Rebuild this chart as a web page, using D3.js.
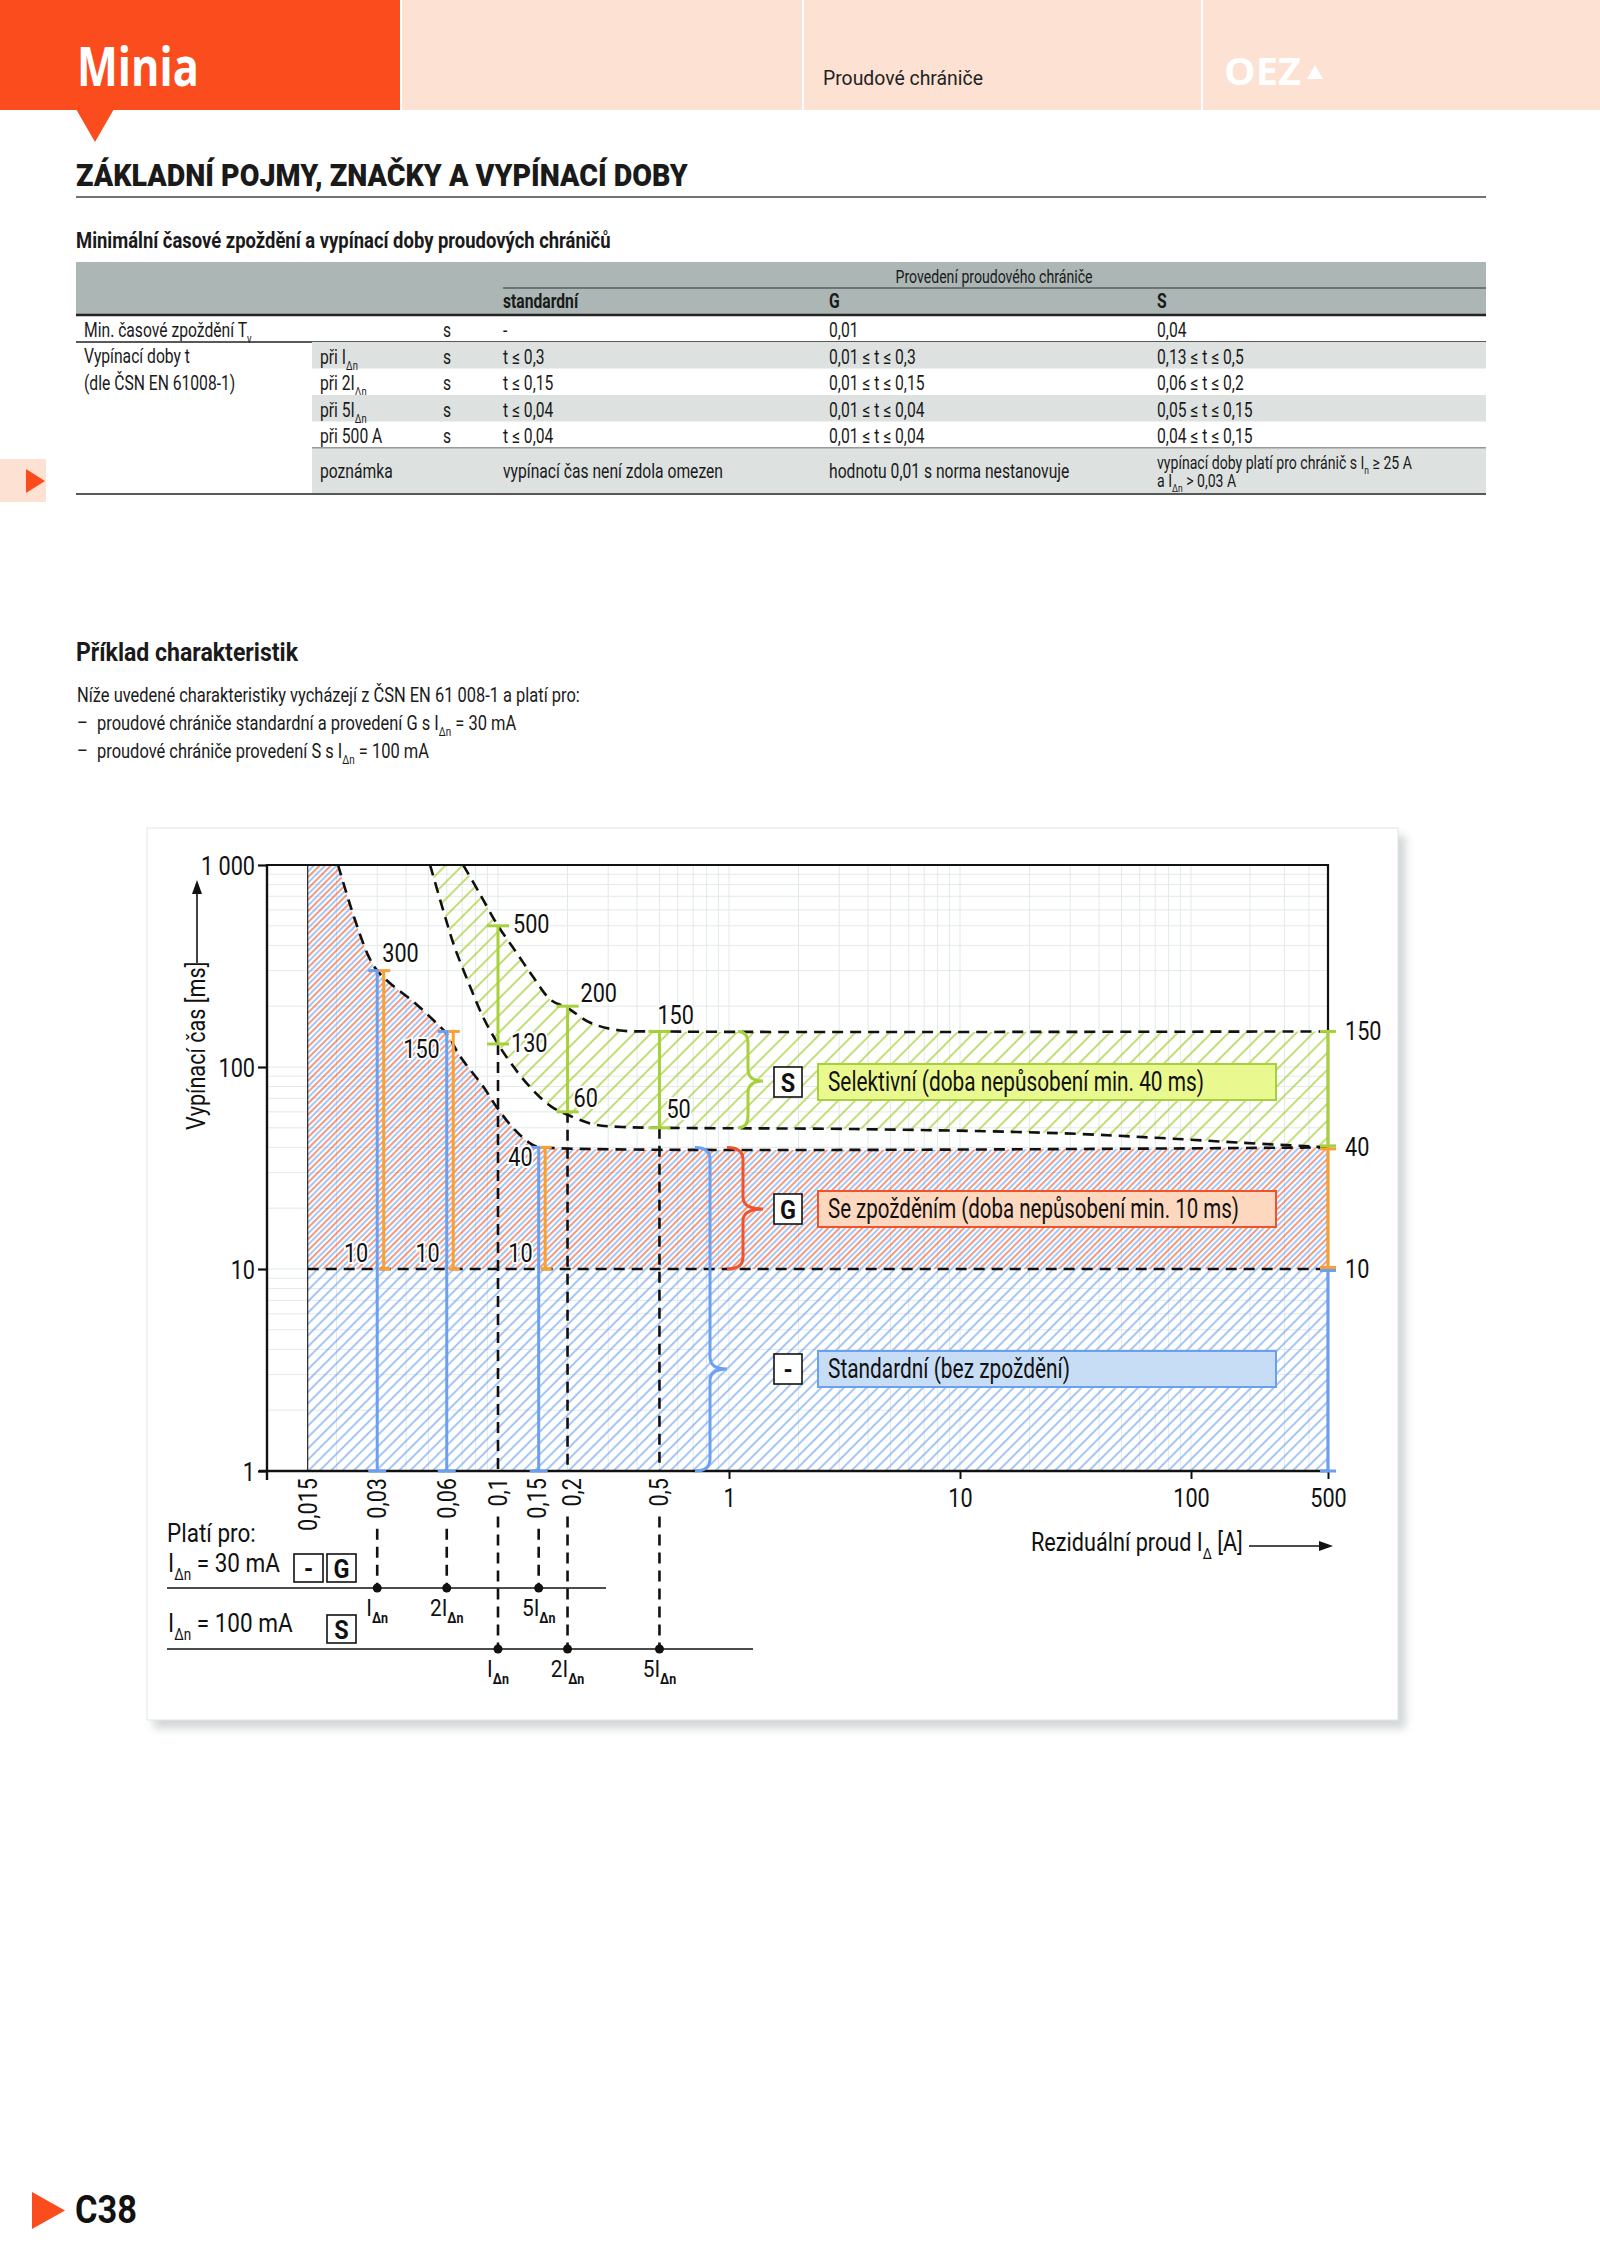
<!DOCTYPE html>
<html>
<head>
<meta charset="utf-8">
<script src="https://cdn.jsdelivr.net/npm/d3@7"></script>
<style>
  body { margin: 0; background: #fff; }
  svg { display: block; }
</style>
</head>
<body>
<svg id="page" width="1600" height="2263"></svg>
<script>
// ---- data ---------------------------------------------------------------
// table
var tableHead = ["standardní", "G", "S"];
var rowNames = ["při I_{Δn}", "při 2I_{Δn}", "při 5I_{Δn}", "při 500 A"];
var minDelay = ["-", "0,01", "0,04"];
var stdTimes = ["t ≤ 0,3", "t ≤ 0,15", "t ≤ 0,04", "t ≤ 0,04"];
var gTimes = ["0,01 ≤ t ≤ 0,3", "0,01 ≤ t ≤ 0,15", "0,01 ≤ t ≤ 0,04", "0,01 ≤ t ≤ 0,04"];
var sTimes = ["0,13 ≤ t ≤ 0,5", "0,06 ≤ t ≤ 0,2", "0,05 ≤ t ≤ 0,15", "0,04 ≤ t ≤ 0,15"];
var notes = ["vypínací čas není zdola omezen", "hodnotu 0,01 s norma nestanovuje",
             "vypínací doby platí pro chránič s I_{n} ≥ 25 A|a I_{Δn} > 0,03 A"];

// chart: [residual current A, time ms]
var stdCurve = [[0.0203,1000],[0.0238,553],[0.0276,351],[0.030,300],[0.0341,260],[0.0438,207],
                [0.0541,165],[0.060,146],[0.0689,112],[0.0863,80],[0.099,63],[0.118,49],
                [0.142,41],[0.156,40],[500,40]];
var sUpper = [[0.0707,1000],[0.0831,726],[0.1,500],[0.118,380],[0.142,279],[0.169,215],
              [0.2,196],[0.25,166],[0.333,152],[0.5,150],[500,150]];
var sLower = [[0.0508,1000],[0.0584,578],[0.0648,394],[0.0747,260],[0.0861,177],[0.1,130],
              [0.114,104],[0.137,80],[0.169,64],[0.2,58],[0.26,52],[0.344,50.5],[0.5,50],
              [3.5,49.3],[27,47],[74,44.5],[173,42.3],[500,40]];
var gLimit = 10;
var stdPoints = [0.03, 0.06, 0.15];      // I, 2I, 5I for 30 mA
var stdTops = [300, 150, 40];
var sPoints = [0.1, 0.2, 0.5];           // I, 2I, 5I for 100 mA
var sTops = [500, 200, 150];
var sBottoms = [130, 60, 50];
var yTicks = [1, 10, 100, 1000];
var xTicksFlat = [1, 10, 100, 500];
var xTicksRot = [0.015, 0.03, 0.06, 0.1, 0.15, 0.2, 0.5];
var multLabels = ["I_{Δn}", "2I_{Δn}", "5I_{Δn}"];

// ---- helpers -----------------------------------------------------------
var FONT = "Roboto, 'Noto Sans', sans-serif";
var svg = d3.select("#page").attr("font-family", FONT);

// the printed font is a condensed one, so squeeze Roboto horizontally
var probe = svg.append("text").attr("font-size", 19)
  .text("Níže uvedené charakteristiky vycházejí z ČSN EN 61 008-1 a platí pro:");
var K = 503 / probe.node().getComputedTextLength();   // chart texts
var KB = K * 19 / 21;                                  // body and table texts
probe.remove();

// text with _{sub} pieces
function rich(t, str, fs, subBold) {
  var parts = str.split(/(_\{[^}]*\})/);
  var shift = 0;
  parts.forEach(function(p) {
    if (!p) return;
    if (p.indexOf("_{") === 0) {
      var s = t.append("tspan").attr("dy", fs * 0.3).attr("font-size", fs * 0.6).text(p.slice(2, -1));
      if (subBold) s.attr("font-weight", "bold");
      shift = fs * 0.3;
    } else {
      t.append("tspan").attr("dy", -shift).text(p);
      shift = 0;
    }
  });
  return t;
}
function txt(x, y, str, fs, opt) {
  opt = opt || {};
  var t = svg.append("text").attr("font-size", fs)
    .attr("fill", opt.fill || "#1a1a1a").attr("text-anchor", opt.anchor || "start");
  if (opt.bold) t.attr("font-weight", opt.bold === true ? "bold" : opt.bold);
  if (opt.family) t.attr("font-family", opt.family);
  rich(t, str, fs, opt.subBold);
  var k = opt.k || K;
  if (opt.w) k = opt.w / t.node().getComputedTextLength();
  t.attr("transform", "translate(" + x + "," + y + ")" + (opt.rot ? " rotate(" + opt.rot + ")" : "") +
    " scale(" + k + ",1)");
  return t;
}

// ---- header -------------------------------------------------------------
svg.append("rect").attr("x", 0).attr("y", 0).attr("width", 1600).attr("height", 110).attr("fill", "#fde1d3");
svg.append("rect").attr("x", 0).attr("y", 0).attr("width", 400).attr("height", 110).attr("fill", "#fb4c1d");
svg.append("path").attr("d", "M76,109L114,109L95,142Z").attr("fill", "#fb4c1d");
[401, 803, 1202].forEach(function(xx) {
  svg.append("line").attr("x1", xx).attr("x2", xx).attr("y1", 0).attr("y2", 110)
    .attr("stroke", "#fff").attr("stroke-width", 2);
});
txt(77, 86, "Minia", 53, {fill: "#fff", bold: true, family: "'Open Sans',sans-serif", w: 122});
txt(823, 85, "Proudové chrániče", 21, {fill: "#222", w: 160});
txt(1224, 85, "OEZ", 38, {fill: "#fff", bold: true, family: "'Open Sans',sans-serif", w: 77});
svg.append("path").attr("d", "M1307,79L1323,79L1315,65Z").attr("fill", "#fff");

txt(76, 186, "ZÁKLADNÍ POJMY, ZNAČKY A VYPÍNACÍ DOBY", 32, {bold: 900, w: 612});
svg.append("line").attr("x1", 76).attr("x2", 1486).attr("y1", 197).attr("y2", 197)
  .attr("stroke", "#444").attr("stroke-width", 1.5);

// ---- table --------------------------------------------------------------
txt(76, 248, "Minimální časové zpoždění a vypínací doby proudových chráničů", 22, {bold: true, w: 535});
var tx0 = 76, tx1 = 1486;
var colX = [84, 320, 443, 503, 829, 1157];
var TF = 20;
var tOpt = {k: KB};
var tBold = {k: KB, bold: true};
svg.append("rect").attr("x", tx0).attr("y", 262).attr("width", tx1 - tx0).attr("height", 53).attr("fill", "#abb6b5");
svg.append("line").attr("x1", 503).attr("x2", tx1).attr("y1", 288).attr("y2", 288).attr("stroke", "#333").attr("stroke-width", 1);
txt(994, 283, "Provedení proudového chrániče", 18, {anchor: "middle", k: KB});
tableHead.forEach(function(h, i) { txt(colX[3 + i], 308, h, TF, tBold); });
svg.append("line").attr("x1", tx0).attr("x2", tx1).attr("y1", 315).attr("y2", 315).attr("stroke", "#222").attr("stroke-width", 2.5);

txt(colX[0], 337, "Min. časové zpoždění T_{v}", TF, tOpt);
txt(colX[2], 337, "s", TF, tOpt);
minDelay.forEach(function(v, i) { txt(colX[3 + i], 337, v, TF, tOpt); });
svg.append("line").attr("x1", tx0).attr("x2", tx1).attr("y1", 342).attr("y2", 342).attr("stroke", "#222").attr("stroke-width", 1.5);

var rowH = 26.5;
rowNames.forEach(function(r, i) {
  var top = 342 + i * rowH;
  if (i % 2 === 0) {
    svg.append("rect").attr("x", 312).attr("y", top).attr("width", tx1 - 312).attr("height", rowH).attr("fill", "#dde2e1");
  }
  var base = top + rowH - 5;
  txt(colX[1], base, r, TF, tOpt);
  txt(colX[2], base, "s", TF, tOpt);
  txt(colX[3], base, stdTimes[i], TF, tOpt);
  txt(colX[4], base, gTimes[i], TF, tOpt);
  txt(colX[5], base, sTimes[i], TF, tOpt);
});
txt(colX[0], 363, "Vypínací doby t", TF, tOpt);
txt(colX[0], 390, "(dle ČSN EN 61008-1)", TF, tOpt);
var noteTop = 342 + 4 * rowH;
svg.append("line").attr("x1", 312).attr("x2", tx1).attr("y1", noteTop).attr("y2", noteTop).attr("stroke", "#333").attr("stroke-width", 1);
svg.append("rect").attr("x", 312).attr("y", noteTop + 0.5).attr("width", tx1 - 312).attr("height", 45).attr("fill", "#dde2e1");
txt(colX[1], noteTop + 30, "poznámka", TF, tOpt);
notes.forEach(function(n, i) {
  var lines = n.split("|");
  if (lines.length === 1) txt(colX[3 + i], noteTop + 30, n, TF, tOpt);
  else lines.forEach(function(l, j) { txt(colX[3 + i], noteTop + 21 + j * 18, l, 18, tOpt); });
});
svg.append("line").attr("x1", tx0).attr("x2", tx1).attr("y1", 494).attr("y2", 494).attr("stroke", "#222").attr("stroke-width", 1.5);

// side marker
svg.append("rect").attr("x", 0).attr("y", 459).attr("width", 46).attr("height", 43).attr("fill", "#fde1d3");
svg.append("path").attr("d", "M26,469L45,481L26,493Z").attr("fill", "#fb4c1d");

// ---- intro text ---------------------------------------------------------
txt(76, 661, "Příklad charakteristik", 25, {bold: true, w: 222});
txt(77, 702, "Níže uvedené charakteristiky vycházejí z ČSN EN 61 008-1 a platí pro:", 21, tOpt);
txt(77, 730, "–", 21, tOpt);
txt(97, 730, "proudové chrániče standardní a provedení G s I_{Δn} = 30 mA", 21, tOpt);
txt(77, 758, "–", 21, tOpt);
txt(97, 758, "proudové chrániče provedení S s I_{Δn} = 100 mA", 21, tOpt);

// ---- chart box ----------------------------------------------------------
var defs = svg.append("defs");
var sh = defs.append("filter").attr("id", "shadow").attr("x", "-5%").attr("y", "-5%").attr("width", "115%").attr("height", "115%");
sh.append("feDropShadow").attr("dx", 7).attr("dy", 8).attr("stdDeviation", 4)
  .attr("flood-color", "#9aa4a4").attr("flood-opacity", 0.45);
svg.append("rect").attr("x", 147).attr("y", 828).attr("width", 1251).attr("height", 892)
  .attr("fill", "#fff").attr("stroke", "#dfe5e5").attr("stroke-width", 1).attr("filter", "url(#shadow)");

function hatch(id, color, size, offset, width) {
  var p = defs.append("pattern").attr("id", id).attr("patternUnits", "userSpaceOnUse")
    .attr("width", size).attr("height", size).attr("patternTransform", "rotate(45)");
  p.append("line").attr("x1", offset).attr("x2", offset).attr("y1", 0).attr("y2", size)
    .attr("stroke", color).attr("stroke-width", width);
}
var BLUE = "#6b9ff0", RED = "#f0532c", ORANGE = "#f8a032", GREEN = "#a7d13c";
hatch("hBlue", BLUE, 8, 2, 1.2);
hatch("hRed", RED, 8, 6, 1.2);
hatch("hGreen", GREEN, 12, 3, 1.4);

var x = d3.scaleLog().domain([0.01, 100, 500]).range([267, 1191, 1328]);
var y = d3.scaleLog().domain([1, 1000]).range([1471, 865]);

defs.append("clipPath").attr("id", "plotClip").append("rect")
  .attr("x", x(0.015)).attr("y", y(1000)).attr("width", x(500) - x(0.015)).attr("height", y(1) - y(1000));

// grid
var grid = svg.append("g").attr("stroke", "#e3e9e9").attr("stroke-width", 1);
y.ticks().forEach(function(t) {
  grid.append("line").attr("x1", x(0.01)).attr("x2", x(500)).attr("y1", y(t)).attr("y2", y(t));
});
x.ticks().forEach(function(t) {
  grid.append("line").attr("x1", x(t)).attr("x2", x(t)).attr("y1", y(1000)).attr("y2", y(1));
});

var line = d3.line().x(function(d) { return x(d[0]); }).y(function(d) { return y(d[1]); })
  .curve(d3.curveCatmullRom.alpha(0.5));

var plot = svg.append("g").attr("clip-path", "url(#plotClip)");
// standard: 1 ms .. curve
plot.append("path").attr("fill", "url(#hBlue)")
  .attr("d", "M" + x(0.015) + "," + y(1) + "L" + x(0.015) + "," + y(1000) + "L" +
    line(stdCurve).slice(1) + "L" + x(500) + "," + y(1) + "Z");
// G: 10 ms .. curve
plot.append("path").attr("fill", "url(#hRed)")
  .attr("d", "M" + x(0.015) + "," + y(gLimit) + "L" + x(0.015) + "," + y(1000) + "L" +
    line(stdCurve).slice(1) + "L" + x(500) + "," + y(gLimit) + "Z");
// S band
plot.append("path").attr("fill", "url(#hGreen)")
  .attr("d", line(sUpper) + "L" + line(sLower.slice().reverse()).slice(1) + "Z");

// dashed boundaries
var dash = {stroke: "#111", "stroke-width": 2.6, "stroke-dasharray": "11,7", fill: "none"};
function dashed(sel) { Object.keys(dash).forEach(function(k) { sel.attr(k, dash[k]); }); return sel; }
dashed(plot.append("path").attr("d", line(stdCurve)));
dashed(plot.append("path").attr("d", line(sUpper)));
dashed(plot.append("path").attr("d", line(sLower)));
dashed(svg.append("line").attr("x1", x(0.015)).attr("x2", x(500)).attr("y1", y(gLimit)).attr("y2", y(gLimit)));
sPoints.forEach(function(p, i) {
  dashed(svg.append("line").attr("x1", x(p)).attr("x2", x(p)).attr("y1", y(sBottoms[i])).attr("y2", y(1)));
});

// frame and axes
svg.append("line").attr("x1", x(0.015)).attr("x2", x(0.015)).attr("y1", y(1000)).attr("y2", y(1))
  .attr("stroke", "#222").attr("stroke-width", 1.2);
svg.append("path").attr("d", "M" + x(0.01) + "," + y(1000) + "H" + x(500) + "V" + y(1))
  .attr("fill", "none").attr("stroke", "#111").attr("stroke-width", 2.2);
var yAxis = svg.append("g").attr("transform", "translate(" + x(0.01) + ",0)")
  .call(d3.axisLeft(y).tickValues(yTicks).tickSize(9).tickSizeOuter(0)
    .tickFormat(function(d) { return d === 1000 ? "1 000" : d; }));
yAxis.select(".domain").remove();
yAxis.selectAll(".tick line").attr("stroke", "#111").attr("stroke-width", 2.2);
yAxis.selectAll(".tick text").attr("font-family", FONT).attr("font-size", 25).attr("fill", "#111")
  .attr("x", -12 / K).attr("dy", "0.36em").attr("transform", "scale(" + K + ",1)");
svg.append("line").attr("x1", x(0.01)).attr("x2", x(0.01)).attr("y1", y(1000) - 1).attr("y2", y(1) + 9)
  .attr("stroke", "#111").attr("stroke-width", 2.4);
svg.append("line").attr("x1", x(0.01) - 8).attr("x2", x(500)).attr("y1", y(1)).attr("y2", y(1))
  .attr("stroke", "#111").attr("stroke-width", 2.4);

var xAxis = svg.append("g").attr("transform", "translate(0," + y(1) + ")")
  .call(d3.axisBottom(x).tickValues(xTicksFlat).tickSize(8).tickSizeOuter(0).tickFormat(d3.format("d")));
xAxis.select(".domain").remove();
xAxis.selectAll(".tick line").attr("stroke", "#111").attr("stroke-width", 2);
xAxis.selectAll(".tick text").attr("font-family", FONT).attr("font-size", 25).attr("fill", "#111")
  .attr("dy", "1.0em").attr("transform", "scale(" + K + ",1)");

var rotEnd = {};
xTicksRot.forEach(function(v) {
  var nudge = v === 0.15 ? -2 : (v === 0.2 ? 4 : 0);
  var t = txt(x(v) + nudge + 9, y(1) + 7, String(v).replace(".", ","), 25, {anchor: "end", rot: -90, fill: "#111"});
  rotEnd[v] = y(1) + 7 + t.node().getComputedTextLength() * K;
});

// axis titles
txt(1031, 1551, "Reziduální proud I_{Δ}  [A]", 25, {fill: "#111"});
svg.append("line").attr("x1", 1249).attr("x2", 1322).attr("y1", 1546).attr("y2", 1546).attr("stroke", "#111").attr("stroke-width", 1.6);
svg.append("path").attr("d", "M1333,1546L1319,1541L1319,1551Z").attr("fill", "#111");
txt(205, 1130, "Vypínací čas [ms]", 25, {rot: -90, fill: "#111"});
svg.append("line").attr("x1", 197).attr("x2", 197).attr("y1", 963).attr("y2", 892).attr("stroke", "#111").attr("stroke-width", 1.6);
svg.append("path").attr("d", "M197,880L192,894L202,894Z").attr("fill", "#111");

// ---- bars ---------------------------------------------------------------
function seg(x1, y1, x2, y2, color, w) {
  svg.append("line").attr("x1", x1).attr("y1", y1).attr("x2", x2).attr("y2", y2)
    .attr("stroke", color).attr("stroke-width", w || 3);
}
stdPoints.forEach(function(p, i) {
  var xp = x(p), top = y(stdTops[i]);
  seg(xp, y(1), xp, top, BLUE);
  seg(xp + 6.5, y(gLimit), xp + 6.5, top, ORANGE);
  seg(xp - 9, top, xp + 2, top, BLUE);
  seg(xp + 2, top, xp + 13, top, ORANGE);
  seg(xp + 2, y(gLimit), xp + 13, y(gLimit), ORANGE);
  seg(xp - 9, y(1), xp + 9, y(1), BLUE);
});
// right edge, 500 A
var xr = x(500);
seg(xr, y(1), xr, y(gLimit), BLUE);
seg(xr, y(gLimit), xr, y(40), ORANGE);
seg(xr, y(40), xr, y(150), GREEN);
seg(xr - 8, y(1), xr + 8, y(1), BLUE);
seg(xr - 8, y(gLimit) + 1.5, xr + 8, y(gLimit) + 1.5, BLUE);
seg(xr - 8, y(gLimit) - 1.5, xr + 8, y(gLimit) - 1.5, ORANGE);
seg(xr - 8, y(40) + 1.5, xr + 8, y(40) + 1.5, ORANGE);
seg(xr - 8, y(40) - 1.5, xr + 8, y(40) - 1.5, GREEN);
seg(xr - 8, y(150), xr + 8, y(150), GREEN);
sPoints.forEach(function(p, i) {
  var xp = x(p);
  seg(xp, y(sBottoms[i]), xp, y(sTops[i]), GREEN);
  seg(xp - 11, y(sTops[i]), xp + 11, y(sTops[i]), GREEN);
  seg(xp - 11, y(sBottoms[i]), xp + 11, y(sBottoms[i]), GREEN);
});

// value labels (value, x, dx, dy, anchor)
var valLabels = [
  [300, 0.03, 5, -9, "start"], [150, 0.06, -7, 27, "end"], [40, 0.15, -6, 19, "end"],
  [10, 0.03, -9, -7, "end"], [10, 0.06, -7, -7, "end"], [10, 0.15, -6, -7, "end"],
  [500, 0.1, 15, 7, "start"], [130, 0.1, 13, 8, "start"],
  [200, 0.2, 13, -4, "start"], [60, 0.2, 6, -5, "start"],
  [150, 0.5, -2, -7, "start"], [50, 0.5, 7, -10, "start"],
  [150, 500, 17, 9, "start"], [40, 500, 17, 9, "start"], [10, 500, 17, 9, "start"]
];
valLabels.forEach(function(l) {
  txt(x(l[1]) + l[2], y(l[0]) + l[3], String(l[0]), 25, {anchor: l[4], fill: "#111"})
    .attr("stroke", "#fff").attr("stroke-width", 4).attr("paint-order", "stroke");
});

// braces
function brace(x0, xs, xt, y0, y1, ym, color) {
  var r = 12;
  var d = "M" + x0 + "," + y0 + "Q" + xs + "," + y0 + " " + xs + "," + (y0 + r) +
    "L" + xs + "," + (ym - r) + "Q" + xs + "," + ym + " " + xt + "," + ym +
    "Q" + xs + "," + ym + " " + xs + "," + (ym + r) +
    "L" + xs + "," + (y1 - r) + "Q" + xs + "," + y1 + " " + x0 + "," + y1;
  svg.append("path").attr("d", d).attr("fill", "none").attr("stroke", color).attr("stroke-width", 3);
}

// legend boxes
function keyBox(x0, y0, w, h, label) {
  svg.append("rect").attr("x", x0).attr("y", y0).attr("width", w).attr("height", h)
    .attr("fill", "#fff").attr("stroke", "#111").attr("stroke-width", 1.6);
  txt(x0 + w / 2, y0 + h / 2 + 9.5, label, 26, {anchor: "middle", bold: true, k: 0.9, fill: "#111"});
}
var legendItems = [
  {key: "S", text: "Selektivní (doba nepůsobení min. 40 ms)", fill: "#eaf890", stroke: GREEN, y0: 1064, w: 376},
  {key: "G", text: "Se zpožděním (doba nepůsobení min. 10 ms)", fill: "#fdd8bf", stroke: RED, y0: 1191, w: 411},
  {key: "-", text: "Standardní (bez zpoždění)", fill: "#c7ddf6", stroke: BLUE, y0: 1351, w: 242}
];
legendItems.forEach(function(it) {
  keyBox(774, it.y0 + 3, 28, 30, it.key);
  svg.append("rect").attr("x", 818).attr("y", it.y0).attr("width", 458).attr("height", 36)
    .attr("fill", it.fill).attr("stroke", it.stroke).attr("stroke-width", 2);
  txt(828, it.y0 + 27, it.text, 27, {w: it.w, fill: "#111"});
});
brace(738, 748, 763, y(150), y(50), 1081, GREEN);
brace(727, 743, 763, y(40), y(gLimit), 1209, RED);
brace(695, 710, 727, y(40), y(1), 1369, BLUE);

// ---- below the axis -----------------------------------------------------
var yG = 1588, yS = 1649;
txt(167, 1542, "Platí pro:", 26, {fill: "#111"});
txt(168, 1572, "I_{Δn} = 30 mA", 26, {fill: "#111"});
txt(168, 1632, "I_{Δn} = 100 mA", 26, {fill: "#111"});
keyBox(294, 1554, 29, 28, "-");
keyBox(327, 1554, 29, 28, "G");
keyBox(327, 1615, 29, 28, "S");
svg.append("line").attr("x1", 167).attr("x2", 606).attr("y1", yG).attr("y2", yG).attr("stroke", "#111").attr("stroke-width", 1.6);
svg.append("line").attr("x1", 167).attr("x2", 753).attr("y1", yS).attr("y2", yS).attr("stroke", "#111").attr("stroke-width", 1.6);
stdPoints.forEach(function(p, i) {
  dashed(svg.append("line").attr("x1", x(p)).attr("x2", x(p)).attr("y1", rotEnd[p] + 10).attr("y2", yG));
  svg.append("circle").attr("cx", x(p)).attr("cy", yG).attr("r", 4.5).attr("fill", "#111");
  txt(x(p), yG + 28, multLabels[i], 24, {anchor: "middle", subBold: true, fill: "#111"});
});
sPoints.forEach(function(p, i) {
  dashed(svg.append("line").attr("x1", x(p)).attr("x2", x(p)).attr("y1", rotEnd[p] + 10).attr("y2", yS));
  svg.append("circle").attr("cx", x(p)).attr("cy", yS).attr("r", 4.5).attr("fill", "#111");
  txt(x(p), yS + 28, multLabels[i], 24, {anchor: "middle", subBold: true, fill: "#111"});
});

// ---- footer -------------------------------------------------------------
svg.append("path").attr("d", "M32,2192L65,2210.5L32,2229Z").attr("fill", "#fb4c1d");
txt(75, 2223, "C38", 38, {bold: true, w: 62, fill: "#111"});
</script>
</body>
</html>
